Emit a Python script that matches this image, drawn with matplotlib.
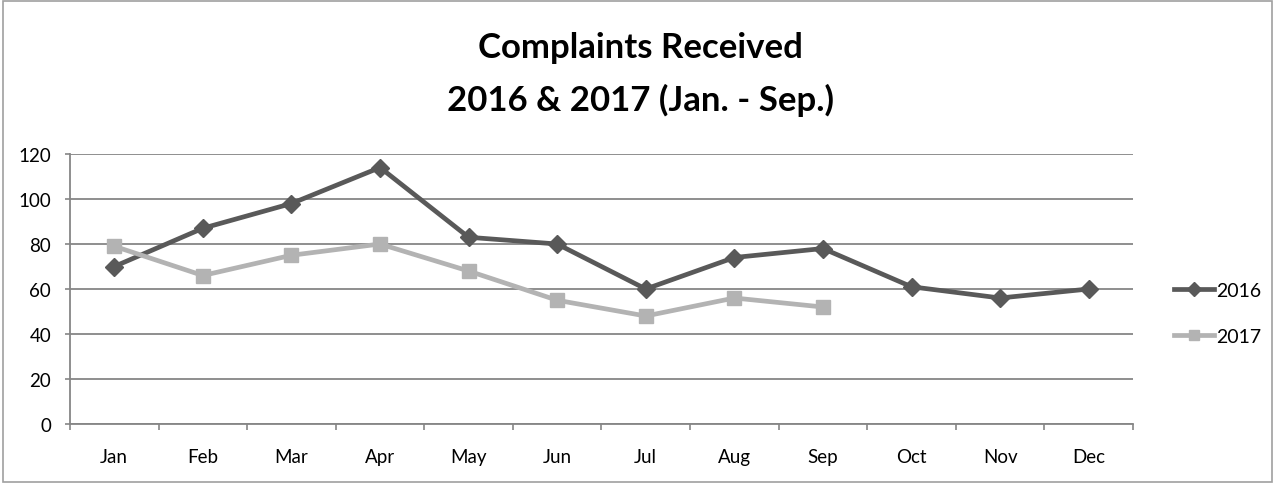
import matplotlib
matplotlib.use('Agg')
import matplotlib.pyplot as plt
from matplotlib.patches import Rectangle

months = ['Jan', 'Feb', 'Mar', 'Apr', 'May', 'Jun', 'Jul', 'Aug', 'Sep', 'Oct', 'Nov', 'Dec']
complaints_2016 = [70, 87, 98, 114, 83, 80, 60, 74, 78, 61, 56, 60]
complaints_2017 = [79, 66, 75, 80, 68, 55, 48, 56, 52]
y_ticks = [0, 20, 40, 60, 80, 100, 120]

plt.rcParams['font.family'] = ['Lato', 'DejaVu Sans']

fig = plt.figure(figsize=(12.75, 4.85), dpi=100)
ax = fig.add_axes([0.0549, 0.1237, 0.8337, 0.5567])

# frame around the whole chart
fig.patches.append(Rectangle((0.002, 0.004), 0.996, 0.992, transform=fig.transFigure,
                             fill=False, edgecolor='#a0a0a0', linewidth=1.2))

x16 = list(range(len(complaints_2016)))
x17 = list(range(len(complaints_2017)))
ax.plot(x16, complaints_2016, color='#595959', linewidth=3.4, marker='D',
        markersize=9.5, label='2016', zorder=3)
ax.plot(x17, complaints_2017, color='#b3b3b3', linewidth=3.4, marker='s',
        markersize=10.5, label='2017', zorder=3)

ax.set_xlim(-0.5, len(months) - 0.5)
ax.set_ylim(0, 120)
ax.set_yticks(y_ticks)
ax.set_xticks(x16)
ax.set_xticklabels(months, fontsize=13.5)
ax.set_xticks([i - 0.5 for i in range(len(months) + 1)], minor=True)
ax.tick_params(axis='x', which='major', length=0, pad=17)
ax.tick_params(axis='x', which='minor', length=4, color='#868686', width=1.2)
ax.tick_params(axis='y', length=3.5, color='#868686', width=1.2, labelsize=13.5, pad=10)

ax.grid(axis='y', color='#868686', linewidth=1.3)
ax.set_axisbelow(True)
for side in ['top', 'right']:
    ax.spines[side].set_visible(False)
for side in ['left', 'bottom']:
    ax.spines[side].set_color('#868686')
    ax.spines[side].set_linewidth(1.3)

fig.text(0.502, 0.90, 'Complaints Received', ha='center', va='center',
         fontsize=25, fontweight='bold')
fig.text(0.502, 0.793, '2016 & 2017 (Jan. - Sep.)', ha='center', va='center',
         fontsize=25, fontweight='bold')

ax.legend(loc='center left', bbox_to_anchor=(1.022, 0.41), frameon=False,
          fontsize=14, handlelength=2.05, handletextpad=0.15, labelspacing=1.5,
          markerscale=0.75)

fig.savefig('out.png', dpi=100)
